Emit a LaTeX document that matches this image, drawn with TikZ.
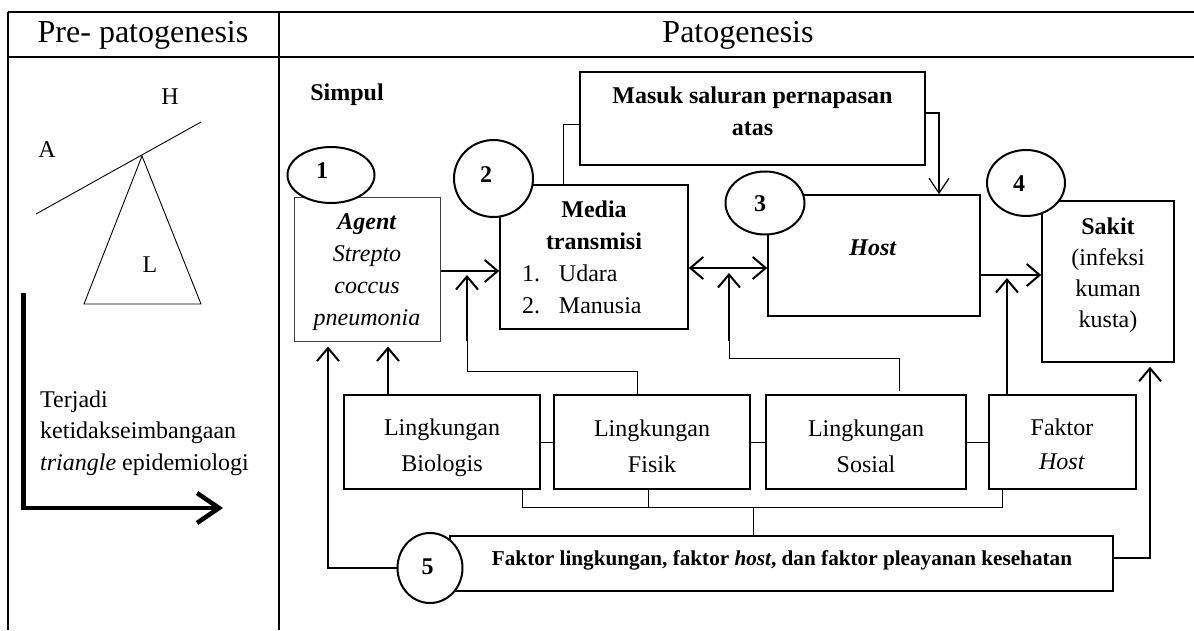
\documentclass[tikz,border=0pt]{standalone}
\usepackage{fontspec}
\setmainfont{Liberation Serif}
\usetikzlibrary{arrows.meta,shapes.geometric,calc}
\begin{document}
\begin{tikzpicture}[x=1pt,y=-1pt,
  tbl/.style={line width=1.5pt},
  fine/.style={line width=0.9pt},
  boxs/.style={draw,rectangle,line width=1.5pt,inner sep=0pt},
  agentbox/.style={draw=black!75,rectangle,line width=1pt,inner sep=0pt},
  lbl/.style={inner sep=0pt,align=center,font=\fontsize{24}{32}\selectfont},
  rowlbl/.style={inner sep=0pt,align=center,font=\fontsize{24}{36}\selectfont},
  circ/.style={draw,ellipse,line width=2pt,fill=white,inner sep=0pt},
  num/.style={inner sep=0pt,font=\fontsize{24}{28}\selectfont\bfseries},
  arr/.style={line width=2pt,-{Straight Barb[length=13pt,width=22pt]}},
  darr/.style={line width=2pt,{Straight Barb[length=13pt,width=22pt]}-{Straight Barb[length=13pt,width=22pt]}},
  farr/.style={line width=1.2pt,-{Straight Barb[length=15pt,width=20pt]}}
]
\useasboundingbox (0,0) rectangle (1194,630);
% table frame
\draw[tbl] (8,12) -- (1194,12);
\draw[tbl] (8,57) -- (1194,57);
\draw[tbl] (8,12) -- (8,630);
\draw[tbl] (279,12) -- (279,630);
\node[inner sep=0pt,font=\fontsize{32}{38}\selectfont] (pre) at (143,35) {Pre- patogenesis};
\node[inner sep=0pt,font=\fontsize{32}{38}\selectfont] (pato) at (738,35) {Patogenesis};

% triangle epidemiology
\draw[fine] (142,156) -- (84,304) -- (201,304) -- cycle;
\draw[fine] (36,214) -- (201,122);
\node[lbl] (h) at (170,97) {H};
\node[lbl] (a) at (47,150) {A};
\node[lbl] (l) at (150,265) {L};
\coordinate (ts) at (23.5,293);
\coordinate (te) at (223,508);
\draw[line width=4.5pt,-{Straight Barb[length=22pt,width=30pt]}] (ts) |- (te);
\node[inner sep=0pt,anchor=west,align=left,font=\fontsize{24}{31.5}\selectfont] (terj) at (40,433) {Terjadi\\ketidakseimbangaan\\\textit{triangle} epidemiologi};

% Simpul
\node[lbl,font=\fontsize{24}{32}\selectfont\bfseries] (simpul) at (347,95) {Simpul};

% main boxes
\node[agentbox,minimum width=146pt,minimum height=144pt] (agent) at (367,269) {};
\node[lbl] (agentt) at (367,272) {\textbf{\textit{Agent}}\\\textit{Strepto}\\\textit{coccus}\\\textit{pneumonia}};
\node[boxs,minimum width=188pt,minimum height=144pt] (media) at (594,257) {};
\node[lbl] (mediat) at (594,257) {\textbf{Media}\\\textbf{transmisi}\\\makebox[144pt][l]{1.\hspace{19pt}Udara}\\\makebox[144pt][l]{2.\hspace{19pt}Manusia}};
\node[boxs,minimum width=345pt,minimum height=93pt] (masuk) at (752.5,118.5) {};
\node[lbl,font=\fontsize{24}{32}\selectfont\bfseries] (masukt) at (752.5,111.5) {Masuk saluran pernapasan\\atas};
\node[boxs,minimum width=212pt,minimum height=121pt] (host) at (874,255.5) {};
\node[lbl] (hostt) at (873,248) {\textbf{\textit{Host}}};
\node[boxs,minimum width=132pt,minimum height=161pt] (sakit) at (1108,281.5) {};
\node[lbl,font=\fontsize{24}{31}\selectfont] (sakitt) at (1108,275) {\textbf{Sakit}\\(infeksi\\kuman\\kusta)};

% bottom row
\node[boxs,minimum width=196pt,minimum height=94pt] (bio) at (442,442) {};
\node[rowlbl] (biot) at (442,448) {Lingkungan\\Biologis};
\node[boxs,minimum width=196pt,minimum height=94pt] (fis) at (652,442) {};
\node[rowlbl] (fist) at (652,446) {Lingkungan\\Fisik};
\node[boxs,minimum width=200pt,minimum height=94pt] (sos) at (866,442) {};
\node[rowlbl] (sost) at (866,446) {Lingkungan\\Sosial};
\node[boxs,minimum width=147pt,minimum height=94pt] (fh) at (1062.5,442) {};
\node[rowlbl,font=\fontsize{24}{34}\selectfont] (fht) at (1062,444) {Faktor\\\textit{Host}};
\node[boxs,minimum width=663pt,minimum height=55pt] (fak) at (781.5,563.5) {};
\node[inner sep=0pt,font=\fontsize{21.2}{26}\selectfont\bfseries] (fakt) at (782,560) {Faktor lingkungan, faktor \textit{host}, dan faktor pleayanan kesehatan};

% thin connectors
\draw[fine] ([xshift=-31pt]media.north) |- ([yshift=-5.5pt]masuk.west);
\draw[farr] ([yshift=5.5pt]masuk.east) -| ([xshift=65pt]host.north);
\draw[fine] (bio.east) -- (fis.west);
\draw[fine] (fis.east) -- (sos.west);
\draw[fine] (sos.east) -- (fh.west);
\coordinate (br) at (753,507);
\draw[fine] ([xshift=80pt]bio.south) -- ++(0,18) -| ([xshift=-60.5pt]fh.south);
\draw[fine] ([xshift=-4pt]fis.south) -- ++(0,18);
\draw[fine] (br) -- (br |- fak.north);

% main arrows
\draw[arr] ([yshift=-2pt]agent.east) -- ([yshift=-2pt]agent.east -| media.west);
\draw[darr] ([yshift=-11pt]media.east) -- ([yshift=-11pt]media.east -| host.west);
\draw[arr] ([yshift=-19.5pt]host.east) -- ([yshift=-19.5pt]host.east -| sakit.west);

\coordinate (j1) at (467,275);
\coordinate (j2) at (729,273);
\coordinate (j3) at (1007,278);
\coordinate (k1) at (467,340);
\coordinate (k2) at (729,340);
\draw[arr,shorten >=5pt] ([xshift=-54pt]bio.north) -- ([xshift=21pt]agent.south);
\draw[fine] ([xshift=-15pt]fis.north) -- ++(0,-22.5) -| (k1);
\draw[arr] ([yshift=-1pt]k1) -- (j1);
\draw[fine] ([xshift=33pt,yshift=3pt]sos.north) -- ++(0,-33) -| (k2);
\draw[arr] ([yshift=-1pt]k2) -- (j2);
\draw[arr] ([xshift=-55.5pt]fh.north) -- (j3);
\draw[arr,shorten >=4pt] ([yshift=5.5pt]fak.east) -| ([xshift=42pt]sakit.south);

% numbered circles
\node[circ,minimum width=87pt,minimum height=56pt] (c1) at (331,175) {};
\node[num] (n1) at (322,171) {1};
\node[circ,minimum width=79pt,minimum height=77pt] (c2) at (493.5,178.5) {};
\node[num] (n2) at (486,175) {2};
\node[circ,minimum width=79pt,minimum height=63pt] (c3) at (765,203) {};
\node[num] (n3) at (760,204) {3};
\node[circ,minimum width=78pt,minimum height=66pt] (c4) at (1026,183) {};
\node[num] (n4) at (1019,183.5) {4};
\node[circ,minimum width=65pt,minimum height=70pt] (c5) at (430,568) {};
\node[num] (n5) at (427.5,566.5) {5};
\draw[arr,shorten >=5pt] (c5.west) -| ([xshift=-39pt]agent.south);
\end{tikzpicture}
\end{document}
